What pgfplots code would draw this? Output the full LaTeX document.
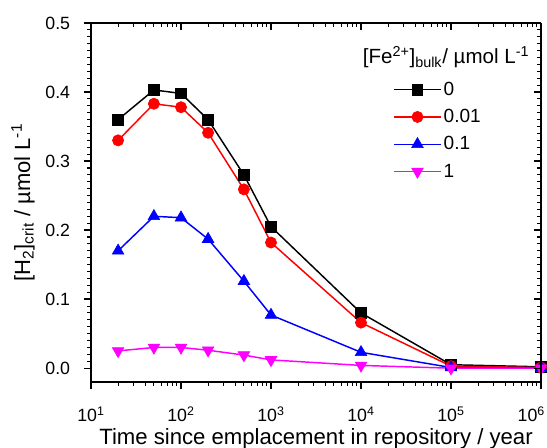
\documentclass[border=0pt]{standalone}
\usepackage{pgfplots}
\pgfplotsset{compat=1.18}
\usepackage{fontspec}
\setmainfont{Liberation Sans}
\definecolor{mag}{RGB}{255,0,255}
\definecolor{rd}{RGB}{255,0,0}
\definecolor{bl}{RGB}{0,0,255}

\pgfplotstableread{
t      c0     c001   c01    c1
20     0.360  0.330  0.170  0.025
50     0.403  0.383  0.220  0.030
100    0.398  0.378  0.218  0.030
200    0.360  0.341  0.187  0.026
500    0.280  0.259  0.126  0.019
1000   0.205  0.182  0.077  0.012
10000  0.080  0.066  0.023  0.004
100000 0.005  0.003  0.001  0.000
1000000 0.002 0.001  0.001  0.000
}\data

\begin{document}
\begin{tikzpicture}
\begin{semilogxaxis}[
  name=ax,
  scale only axis,
  width=337.5pt, height=269.25pt,
  xmin=10, xmax=1e6, ymin=-0.02, ymax=0.5,
  xtick={10,100,1000,10000,100000,1000000},
  ytick={0,0.1,0.2,0.3,0.4,0.5},
  minor y tick num=9,
  axis line style={line width=1.3pt},
  major tick style={line width=1pt,black},
  minor tick style={line width=0.8pt,black},
  major tick length=5pt, minor tick length=2.7pt,
  axis x line*=bottom, axis y line*=left,
  tick align=outside,
  xticklabels={10\textsuperscript{1},10\textsuperscript{2},10\textsuperscript{3},10\textsuperscript{4},10\textsuperscript{5},\makebox[0pt][r]{10\textsuperscript{6}\kern-3pt}},
  yticklabel style={/pgf/number format/fixed,/pgf/number format/fixed zerofill,/pgf/number format/precision=1,/pgf/number format/assume math mode=true,
    anchor=east, inner sep=0pt, xshift=-10.5pt},
  xticklabel style={anchor=base, inner sep=0pt, yshift=-25pt},
  tick label style={font=\fontsize{13.3}{15}\selectfont},
  xlabel={Time since emplacement in repository / year},
  ylabel={[H\textsubscript{2}]\textsubscript{crit} / µmol L\textsuperscript{-1}},
  every axis x label/.style={at={(axis description cs:0.5,0)}, anchor=base, yshift=-47.25pt, font=\fontsize{16.6}{18}\selectfont},
  every axis y label/.style={at={(axis description cs:-0.151,0.5)}, rotate=90, anchor=center, font=\fontsize{16.5}{18}\selectfont},
  legend style={draw=none, fill=none, inner sep=0pt, at={(rel axis cs:0.671,0.842)}, anchor=north west,
    font=\fontsize{14.3}{16}\selectfont, row sep=6pt, nodes={inner sep=1.5pt}},
  legend cell align=left,
  legend image code/.code={\draw[mark repeat=2,mark phase=2] plot coordinates {(0cm,0cm)(0.62cm,0cm)(1.24cm,0cm)};},
]
\addplot[black, line width=1.1pt, mark=square*, mark size=4pt, mark options={line width=0.5pt}] table[x=t,y=c0] {\data};
\addlegendentry{0}
\addplot[rd, line width=1.1pt, mark=*, mark size=4.2pt, mark options={line width=0.5pt}] table[x=t,y=c001] {\data};
\addlegendentry{0.01}
\addplot[bl, line width=1.1pt, mark=triangle*, mark size=5pt, mark options={line width=0.5pt}] table[x=t,y=c01] {\data};
\addlegendentry{0.1}
\addplot[mag, line width=1.1pt, mark=triangle*, mark size=5pt, mark options={line width=0.5pt, rotate=180}] table[x=t,y=c1] {\data};
\addlegendentry{1}
\node[anchor=center, inner sep=0pt, font=\fontsize{15.4}{17}\selectfont] at (rel axis cs:0.789,0.905) {[Fe\textsuperscript{2+}]\textsubscript{bulk}/ µmol L\textsuperscript{-1}};
\end{semilogxaxis}
\begin{semilogxaxis}[
  scale only axis,
  width=337.5pt, height=269.25pt,
  xmin=10, xmax=1e6, ymin=-0.02, ymax=0.5,
  xtick={10,100,1000,10000,100000,1000000},
  ytick={0,0.1,0.2,0.3,0.4,0.5},
  minor y tick num=9,
  axis line style={line width=1.3pt},
  major tick style={line width=1pt,black},
  minor tick style={line width=0.8pt,black},
  major tick length=5pt, minor tick length=2.7pt,
  axis x line*=top, axis y line*=right,
  tick align=inside,
  xticklabels={}, yticklabels={},
]
\end{semilogxaxis}
\pgfresetboundingbox
\path[use as bounding box] ([shift={(-68.25pt,-49.5pt)}]ax.south west) rectangle ([shift={(4.5pt,17.25pt)}]ax.north east);
\end{tikzpicture}
\end{document}
